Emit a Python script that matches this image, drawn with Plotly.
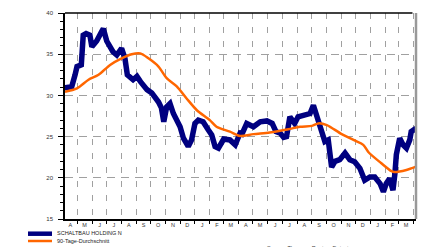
import plotly.graph_objects as go

# ---- data ----
price_dates = [
    "2007-04-02", "2007-04-19", "2007-04-26", "2007-04-30", "2007-05-09", "2007-05-13",
    "2007-05-19", "2007-05-27", "2007-05-31", "2007-06-10", "2007-06-21", "2007-06-24",
    "2007-07-01", "2007-07-08", "2007-07-14", "2007-07-22", "2007-08-01", "2007-08-08",
    "2007-08-13", "2007-08-25", "2007-09-02", "2007-09-09", "2007-09-23", "2007-10-03",
    "2007-10-10", "2007-10-17", "2007-10-23", "2007-10-28", "2007-11-03", "2007-11-10",
    "2007-11-17", "2007-11-24", "2007-12-01", "2007-12-08", "2007-12-18", "2007-12-25",
    "2008-01-01", "2008-01-08", "2008-01-18", "2008-01-29", "2008-02-05", "2008-02-12",
    "2008-02-19", "2008-03-01", "2008-03-14", "2008-03-25", "2008-03-29", "2008-04-04",
    "2008-04-08", "2008-04-18", "2008-05-02", "2008-05-16", "2008-05-30", "2008-06-10",
    "2008-06-18", "2008-06-27", "2008-07-04", "2008-07-10", "2008-07-17", "2008-07-27",
    "2008-08-03", "2008-08-17", "2008-08-28", "2008-09-04", "2008-09-11", "2008-09-18",
    "2008-09-28", "2008-10-05", "2008-10-12", "2008-10-19", "2008-10-29", "2008-11-09",
    "2008-11-19", "2008-11-29", "2008-12-10", "2008-12-20", "2008-12-31", "2009-01-10",
    "2009-01-21", "2009-01-28", "2009-02-03", "2009-02-10", "2009-02-17", "2009-02-21",
    "2009-02-24", "2009-03-03", "2009-03-10", "2009-03-17", "2009-03-24", "2009-03-27",
    "2009-04-06",
]
price_values = [
    30.9, 31.05, 32.5, 33.5, 33.7, 37.3,
    37.5, 37.3, 35.9, 36.6, 37.8, 38.1,
    36.6, 35.7, 35.3, 34.9, 35.7, 34.5,
    32.5, 31.9, 32.3, 31.7, 30.7, 30.3,
    29.8, 29.2, 28.5, 26.8, 28.6, 29.0,
    27.8, 27.0, 26.2, 24.8, 23.8, 24.6,
    26.6, 27.0, 26.8, 25.8, 25.2, 23.8,
    23.6, 24.7, 24.6, 24.0, 24.6, 25.4,
    25.3, 26.6, 26.2, 26.8, 26.9, 26.6,
    25.6, 25.4, 24.9, 25.0, 27.4, 26.6,
    27.4, 27.6, 27.8, 28.8, 27.4, 26.2,
    24.4, 24.6, 21.3, 22.0, 22.2, 23.0,
    22.2, 21.95, 21.15, 19.7, 20.1, 20.1,
    19.3, 18.3, 19.3, 19.9, 18.5, 20.5,
    22.8, 24.8, 24.0, 23.6, 24.6, 25.6,
    26.0,
]

avg_dates = [
    "2007-04-05", "2007-04-30", "2007-05-24", "2007-06-14", "2007-07-08", "2007-08-01",
    "2007-08-22", "2007-09-09", "2007-09-26", "2007-10-17", "2007-11-03", "2007-11-24",
    "2007-12-15", "2008-01-05", "2008-02-01", "2008-02-15", "2008-03-14", "2008-04-04",
    "2008-05-02", "2008-06-05", "2008-07-14", "2008-08-07", "2008-09-01", "2008-09-14",
    "2008-10-02", "2008-11-02", "2008-11-30", "2008-12-17", "2008-12-28", "2009-01-23",
    "2009-02-14", "2009-02-20", "2009-03-17", "2009-04-06",
]
avg_values = [
    30.45, 30.85, 31.9, 32.5, 33.7, 34.5,
    35.0, 35.1, 34.5, 33.5, 32.1, 31.1,
    29.6, 28.2, 27.0, 26.2, 25.6, 25.07,
    25.3, 25.5, 25.9, 26.2, 26.3, 26.6,
    26.4, 25.3, 24.5, 24.0, 23.1, 21.8,
    20.8, 20.7, 20.95, 21.35,
]

month_letters = ["A", "M", "J", "J", "A", "S", "O", "N", "D", "J", "F", "M"] * 2
month_mids = [f"{2007 + (3 + i) // 12}-{(3 + i) % 12 + 1:02d}-16" for i in range(24)]
month_starts = [f"{2007 + (4 + i) // 12}-{(4 + i) % 12 + 1:02d}-01" for i in range(24)]

y_ticks = [15, 20, 25, 30, 35, 40]

series_names = ["SCHALTBAU HOLDING N", "90-Tage-Durchschnitt"]
source_text = "Source: Thomson Reuters Datastream"

BLUE = "#000080"
ORANGE = "#FF6600"
GRID = "#A0A0A0"
FONT = "Liberation Sans, Arial, sans-serif"

fig = go.Figure()
fig.add_trace(go.Scatter(x=price_dates, y=price_values, mode="lines",
                         line=dict(color=BLUE, width=5.5), name=series_names[0]))
fig.add_trace(go.Scatter(x=avg_dates, y=avg_values, mode="lines",
                         line=dict(color=ORANGE, width=2.5, shape="spline", smoothing=0.8),
                         name=series_names[1]))

L, R, T, B = 65, 8, 13, 28
W, H = 424, 247
pw, ph = W - L - R, H - T - B


def px2paper(x, y):
    return (x - L) / pw, (H - B - y) / ph


fig.update_layout(
    width=W, height=H,
    margin=dict(l=L, r=R, t=T, b=B),
    paper_bgcolor="white", plot_bgcolor="white",
    showlegend=False,
    font=dict(family=FONT, size=6, color="#333333"),
    xaxis=dict(
        type="date",
        range=["2007-04-05", "2009-04-06"],
        tickmode="array", tickvals=month_mids, ticktext=month_letters,
        ticks="", showgrid=False, zeroline=False,
        tickfont=dict(size=5.5, color="#333333"),
        showline=True, linecolor="black", linewidth=1.5,
        minor=dict(tickmode="array", tickvals=month_starts, ticks="outside",
                   ticklen=3, tickcolor="black", tickwidth=1,
                   showgrid=True, gridcolor=GRID, gridwidth=1, griddash="6px,8px"),
    ),
    yaxis=dict(
        range=[15, 40], tickmode="array", tickvals=y_ticks,
        ticktext=[str(v) for v in y_ticks],
        ticks="outside", ticklen=5, tickcolor="black", tickwidth=1,
        showgrid=True, gridcolor=GRID, gridwidth=1, griddash="8px,6px",
        zeroline=False, showline=True, linecolor="black", linewidth=1.5,
        tickfont=dict(size=6, color="#333333"),
        ticklabelstandoff=4,
        minor=dict(dtick=1, ticks="outside", ticklen=3, tickcolor="black",
                   tickwidth=1, showgrid=False),
    ),
)

shapes = []
# top border and right border
shapes.append(dict(type="line", xref="paper", yref="paper", x0=0, x1=0.99, y0=1, y1=1,
                   line=dict(color="black", width=1.5)))
shapes.append(dict(type="line", xref="paper", yref="paper", x0=1, x1=1, y0=0, y1=1,
                   line=dict(color="#999999", width=2.5)))
# legend samples
for (yy, col, wd) in [(233.7, BLUE, 4.5), (241, ORANGE, 2.5)]:
    x0, y0 = px2paper(28, yy)
    x1, _ = px2paper(52, yy)
    shapes.append(dict(type="line", xref="paper", yref="paper", x0=x0, x1=x1, y0=y0, y1=y0,
                       line=dict(color=col, width=wd)))
fig.update_layout(shapes=shapes)

annotations = []
for name, yy in zip(series_names, [233.2, 240.8]):
    ax, ay = px2paper(55, yy)
    annotations.append(dict(text=name, xref="paper", yref="paper", x=ax, y=ay,
                            xanchor="left", yanchor="middle", showarrow=False,
                            font=dict(size=5.5, color="#222222", family=FONT)))
sx, sy = px2paper(265, 243)
annotations.append(dict(text=source_text, xref="paper", yref="paper", x=sx, y=sy,
                        xanchor="left", yanchor="top", showarrow=False,
                        font=dict(size=5.5, color="#444444", family=FONT)))
fig.update_layout(annotations=annotations)

fig.write_html("out.html", config={"displayModeBar": False},
               post_script="document.body.style.margin='0';document.body.style.overflow='hidden';")
